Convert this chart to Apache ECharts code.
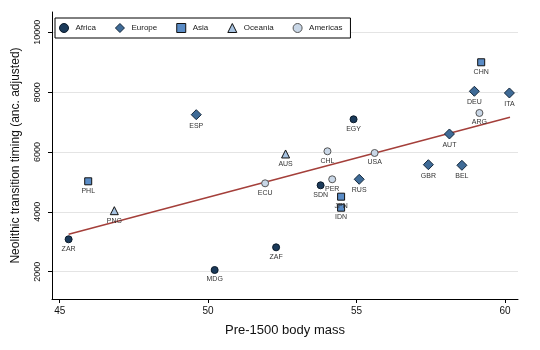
<!DOCTYPE html>
<html>
<head>
<meta charset="utf-8">
<script src="https://cdn.jsdelivr.net/npm/echarts@6/dist/echarts.min.js"></script>
<style>
  html, body { margin: 0; padding: 0; background: #fff; }
  #chart { width: 540px; height: 350px; }
</style>
</head>
<body>
<div id="chart"></div>
<script>
// [label, body mass, neolithic timing]
const africa = [['ZAR', 45.30, 3083], ['MDG', 50.22, 2057], ['ZAF', 52.29, 2815], ['EGY', 54.90, 7093], ['SDN', 53.79, 4887]];
const europe = [['ESP', 49.60, 7247], ['RUS', 55.09, 5088], ['GBR', 57.42, 5576], ['AUT', 58.13, 6602], ['DEU', 58.97, 8029], ['ITA', 60.15, 7972], ['BEL', 58.55, 5556]];
const asia = [['PHL', 45.96, 5021], ['JPN', 54.48, 4507], ['IDN', 54.48, 4139], ['CHN', 59.20, 8998]];
const oceania = [['PNG', 46.84, 4039], ['AUS', 52.61, 5934]];
const americas = [['ECU', 51.92, 4954], ['CHL', 54.02, 6024], ['PER', 54.18, 5088], ['USA', 55.61, 5967], ['ARG', 59.14, 7304]];
const fitLine = [[45.30, 3250], [60.17, 7160]];

const xTicks = [45, 50, 55, 60];
const yTicks = [2000, 4000, 6000, 8000, 10000];

const font = 'Liberation Sans, Arial, sans-serif';

function groupSeries(name, data, symbol, size, fill, border) {
    return {
        name: name,
        type: 'scatter',
        symbol: symbol,
        symbolSize: size,
        data: data.map(d => ({ name: d[0], value: [d[1], d[2]] })),
        itemStyle: { color: fill, borderColor: border, borderWidth: 1, opacity: 1 },
        label: {
            show: true,
            position: 'bottom',
            distance: 2,
            formatter: p => p.name,
            fontSize: 7,
            fontFamily: font,
            color: '#333'
        },
        emphasis: { disabled: true },
        z: 3
    };
}

const chart = echarts.init(document.getElementById('chart'));

chart.setOption({
    animation: false,
    backgroundColor: '#fff',
    grid: { left: 52, right: 22, top: 12, bottom: 51 },
    legend: {
        left: 55,
        top: 18,
        width: 300,
        padding: [5, 8, 5, 4],
        itemGap: 19,
        itemWidth: 9,
        itemHeight: 9,
        backgroundColor: '#fff',
        borderColor: '#000',
        borderWidth: 1,
        itemStyle: { borderWidth: 1 },
        textStyle: { fontSize: 8, fontFamily: font, color: '#1a1a1a', padding: [0, 0, 0, 2] },
        data: ['Africa', 'Europe', 'Asia', 'Oceania', 'Americas'],
        z: 10
    },
    xAxis: {
        type: 'value',
        min: 44.74,
        max: 60.44,
        name: 'Pre-1500 body mass',
        nameLocation: 'middle',
        nameGap: 25,
        nameTextStyle: { fontSize: 13, fontFamily: font, color: '#111' },
        axisLine: { show: true, lineStyle: { color: '#000', width: 1 } },
        axisTick: { show: true, length: 4, customValues: xTicks, lineStyle: { color: '#000' } },
        axisLabel: { customValues: xTicks, fontSize: 10, fontFamily: font, color: '#111', margin: 7 },
        splitLine: { show: false }
    },
    yAxis: {
        type: 'value',
        min: 1088,
        max: 10678,
        name: 'Neolithic transition timing (anc. adjusted)',
        nameLocation: 'middle',
        nameGap: 30,
        nameTextStyle: { fontSize: 12, fontFamily: font, color: '#111' },
        axisLine: { show: true, lineStyle: { color: '#000', width: 1 } },
        axisTick: { show: true, length: 4, customValues: yTicks, lineStyle: { color: '#000' } },
        axisLabel: {
            customValues: yTicks,
            formatter: v => String(v),
            rotate: 90,
            fontSize: 9,
            fontFamily: font,
            color: '#111',
            margin: 10
        },
        splitLine: { show: true, lineStyle: { color: '#e4e4e4', width: 1 } }
    },
    series: [
        {
            name: 'fit',
            type: 'line',
            data: fitLine,
            symbol: 'none',
            lineStyle: { color: '#a43f3a', width: 1.5 },
            z: 2,
            silent: true
        },
        groupSeries('Africa', africa, 'circle', 7, '#1b3a5a', '#0a1a2a'),
        groupSeries('Europe', europe, 'diamond', 10, '#3f6b97', '#14283c'),
        groupSeries('Asia', asia, 'rect', 7, '#5a8cc6', '#111'),
        groupSeries('Oceania', oceania, 'triangle', 8, '#a6c2e0', '#111'),
        groupSeries('Americas', americas, 'circle', 7, '#c9d7e7', '#555')
    ]
});
</script>
</body>
</html>
